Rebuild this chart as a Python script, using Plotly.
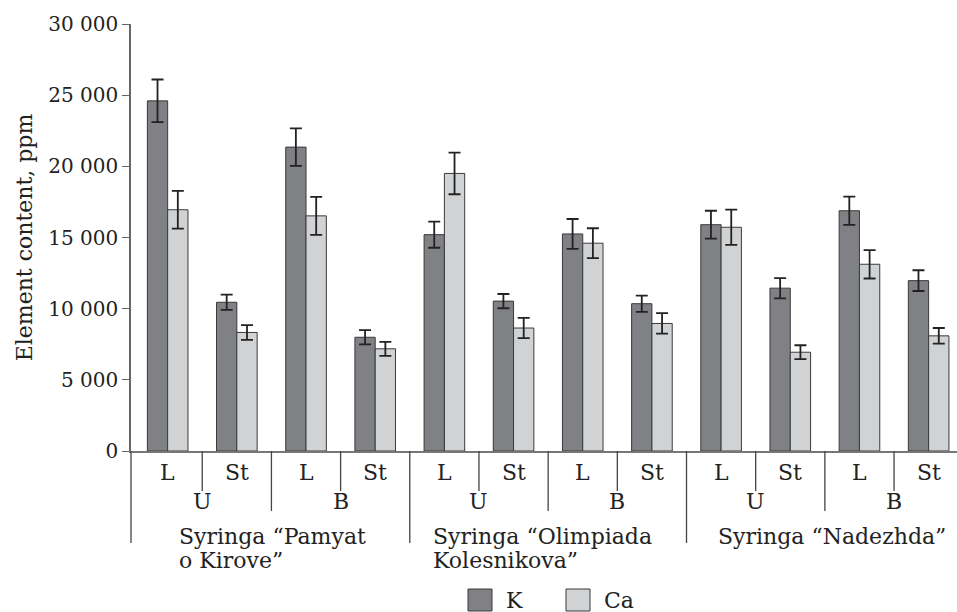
import plotly.graph_objects as go

# ---- data -------------------------------------------------------------
cultivars = [["Syringa “Pamyat", "o Kirove”"],
             ["Syringa “Olimpiada", "Kolesnikova”"],
             ["Syringa “Nadezhda”"]]
sites = ["U", "B"]
organs = ["L", "St"]

series_names = ["K", "Ca"]
k_vals = [24600, 10450, 21350, 7990, 15200, 10530, 15250, 10350, 15900, 11440, 16880, 11970]
k_err = [1500, 540, 1320, 500, 920, 500, 1050, 570, 980, 710, 990, 730]
ca_vals = [16950, 8330, 16520, 7180, 19500, 8640, 14600, 8960, 15720, 6940, 13120, 8090]
ca_err = [1330, 520, 1330, 490, 1460, 710, 1050, 720, 1240, 490, 1000, 550]

y_ticks = [0, 5000, 10000, 15000, 20000, 25000, 30000]

# ---- layout constants -------------------------------------------------
W, H = 957, 612
ML, MR, MT, MB = 131, 0, 24, 161
PW, PH = W - ML - MR, H - MT - MB
FONT = "DejaVu Serif"
LABEL_SIZE = 22
colors = ["#808185", "#d1d2d4"]
x_range = [-0.53, 11.41]


def px(X):
    """pixel column -> paper x"""
    return (X - ML) / PW


def py(Y):
    """pixel row -> paper y"""
    return (H - MB - Y) / PH


n = len(k_vals)
xs = list(range(n))

fig = go.Figure()
for name, vals, errs, col in zip(series_names, [k_vals, ca_vals], [k_err, ca_err], colors):
    fig.add_trace(go.Bar(
        x=xs, y=vals, name=name,
        marker=dict(color=col, line=dict(color="#3a3a3a", width=1)),
        error_y=dict(type="data", array=errs, color="#222222", thickness=1.8, width=6),
    ))

shapes = []
annotations = []

# separators below the axis: organ level, site level, cultivar level
for k in range(n - 1):
    xb = k + 0.5
    if k % 4 == 3:
        depth = 543
    elif k % 2 == 1:
        depth = 511
    else:
        depth = 491
    shapes.append(dict(type="line", xref="x", yref="paper", x0=xb, x1=xb,
                       y0=0, y1=py(depth), line=dict(color="#444444", width=1.3)))
# left edge continues the y axis down through the label rows
shapes.append(dict(type="line", xref="paper", yref="paper", x0=0, x1=0,
                   y0=0, y1=py(543), line=dict(color="#444444", width=1.3)))

# organ labels
for i in range(n):
    annotations.append(dict(x=i, y=py(472), xref="x", yref="paper", text=organs[i % 2],
                            showarrow=False, xanchor="center", yanchor="middle",
                            font=dict(size=LABEL_SIZE)))
# site labels
for j in range(n // 2):
    annotations.append(dict(x=2 * j + 0.5, y=py(502), xref="x", yref="paper", text=sites[j % 2],
                            showarrow=False, xanchor="center", yanchor="middle",
                            font=dict(size=LABEL_SIZE)))
# cultivar labels (left aligned lines inside each block)
left_offsets = [0.64, 0.30, 0.42]
for c, lines in enumerate(cultivars):
    x_left = 4 * c - 0.5 + left_offsets[c]
    for li, line in enumerate(lines):
        annotations.append(dict(x=x_left, y=py(536 + 24 * li), xref="x", yref="paper", text=line,
                                showarrow=False, xanchor="left", yanchor="middle",
                                font=dict(size=LABEL_SIZE)))

# legend swatches
legend_x = [468, 566]
for name, col, X in zip(series_names, colors, legend_x):
    shapes.append(dict(type="rect", xref="paper", yref="paper",
                       x0=px(X), x1=px(X + 24), y0=py(589), y1=py(611),
                       fillcolor=col, line=dict(color="#3a3a3a", width=1)))
    annotations.append(dict(x=px(X + 36), y=py(600), xref="paper", yref="paper", text=name,
                            showarrow=False, xanchor="left", yanchor="middle",
                            font=dict(size=LABEL_SIZE)))

fig.update_layout(
    width=W, height=H,
    margin=dict(l=ML, r=MR, t=MT, b=MB, pad=0),
    paper_bgcolor="white", plot_bgcolor="white",
    barmode="group", bargap=0.413, bargroupgap=0,
    showlegend=False,
    separators=". ",
    font=dict(family=FONT, size=20, color="#222222"),
    shapes=shapes, annotations=annotations,
    xaxis=dict(range=x_range, showticklabels=False, ticks="", showgrid=False,
               zeroline=False, showline=True, linecolor="#777777", linewidth=2),
    yaxis=dict(range=[0, 30000], tickvals=y_ticks, tickformat=",d", ticks="outside",
               ticklen=7, tickcolor="#666666", tickwidth=1.3, showgrid=False, zeroline=False,
               showline=True, linecolor="#666666", linewidth=1.5,
               tickfont=dict(size=20),
               title=dict(text="Element content, ppm", font=dict(size=22), standoff=10)),
)

fig.write_html("out.html")
